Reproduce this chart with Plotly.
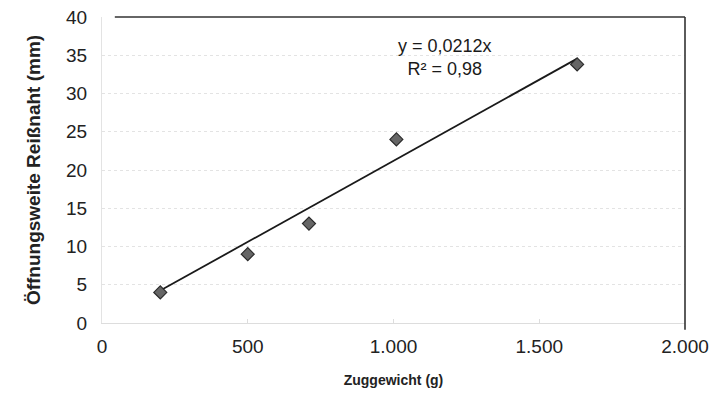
import plotly.graph_objects as go

zuggewicht = [200, 500, 710, 1010, 1630]
oeffnung = [4.0, 9.0, 13.0, 24.0, 33.8]
slope = 0.0212
x_ticks = [0, 500, 1000, 1500, 2000]
x_labels = ["0", "500", "1.000", "1.500", "2.000"]
y_ticks = [0, 5, 10, 15, 20, 25, 30, 35, 40]
eq_text = "y = 0,0212x<br>R² = 0,98"

trend_x = [min(zuggewicht), max(zuggewicht)]
trend_y = [slope * v for v in trend_x]

FONT = "Liberation Sans, Arial"

fig = go.Figure()
fig.add_trace(go.Scatter(x=trend_x, y=trend_y, mode="lines",
                         line=dict(color="#1a1a1a", width=1.8), showlegend=False))
fig.add_trace(go.Scatter(x=zuggewicht, y=oeffnung, mode="markers",
                         marker=dict(symbol="diamond", size=10, color="#666666",
                                     line=dict(color="#2a2a2a", width=1.2)),
                         showlegend=False))

fig.add_annotation(x=1175, y=34.7, text=eq_text, showarrow=False,
                   font=dict(family=FONT, size=18, color="#1a1a1a"),
                   align="center")

# dark top and right borders of plot area
fig.add_shape(type="line", xref="paper", yref="paper", x0=0.022, x1=1, y0=1, y1=1,
              line=dict(color="#333333", width=1.6))
fig.add_shape(type="line", xref="paper", yref="paper", x0=1, x1=1, y0=-0.022, y1=1,
              line=dict(color="#333333", width=1.6))

fig.update_layout(
    width=709, height=391,
    margin=dict(l=94, r=32, t=9, b=76, autoexpand=False),
    paper_bgcolor="white", plot_bgcolor="white",
    font=dict(family=FONT, color="#222222"),
    xaxis=dict(range=[0, 2000], tickvals=x_ticks, ticktext=x_labels,
               showgrid=False, zeroline=False, automargin=False,
               showline=True, linecolor="#dddddd", linewidth=1,
               ticks="inside", ticklen=4, tickcolor="#dddddd",
               ticklabelstandoff=6, ticklabeloverflow="allow",
               tickfont=dict(size=19, color="#222222"),
               title=dict(text="<b>Zuggewicht (g)</b>", font=dict(size=14, color="#222222"),
                          standoff=19)),
    yaxis=dict(range=[0, 40], tickvals=y_ticks, automargin=False,
               showgrid=True, gridcolor="#e3e3e3", griddash="dot", gridwidth=1,
               zeroline=False, showline=True, linecolor="#e3e3e3", linewidth=1,
               ticklabelstandoff=10, ticklabeloverflow="allow",
               tickfont=dict(size=19, color="#222222"),
               title=dict(text="<b>Öffnungsweite Reißnaht (mm)</b>",
                          font=dict(size=19, color="#222222"), standoff=20)),
)

fig.write_html("out.html")
